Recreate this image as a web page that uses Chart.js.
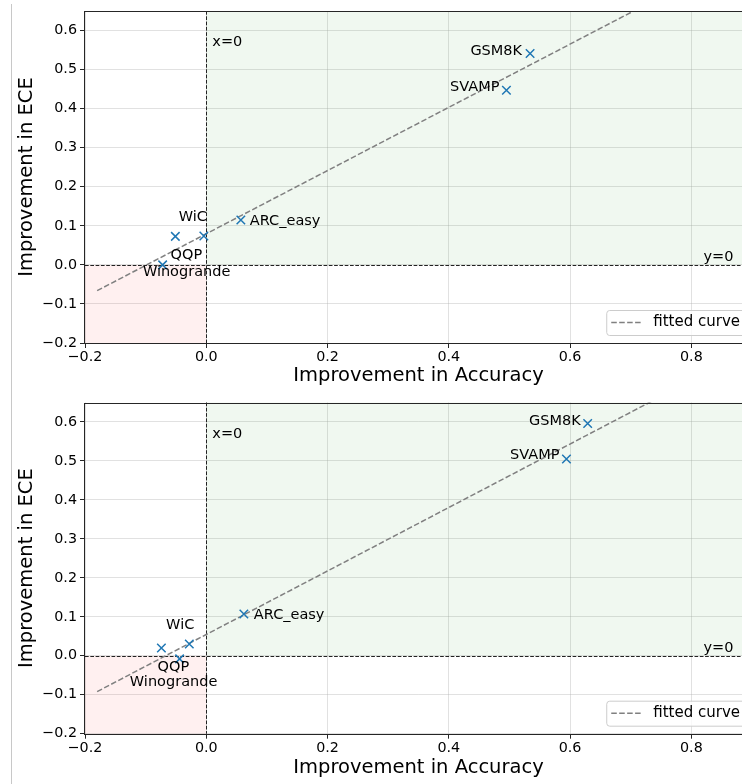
<!DOCTYPE html>
<html>
<head>
<meta charset="utf-8">
<script src="https://cdn.jsdelivr.net/npm/chart.js@4.4.1/dist/chart.umd.min.js"></script>
<style>
  html, body { margin: 0; padding: 0; background: #fff; overflow: hidden; }
  #wrap { position: relative; width: 742px; height: 784px; overflow: hidden; }
  #wrap canvas { position: absolute; left: 0; }
  #top { top: 0; }
  #bottom { top: 392px; }
  .edge { position: absolute; left: 11px; top: 4px; bottom: 0; border-left: 1px solid #c8c8c8; }
</style>
</head>
<body>
<div id="wrap">
  <div class="edge"></div>
  <canvas id="top" width="760" height="392"></canvas>
  <canvas id="bottom" width="760" height="392"></canvas>
</div>
<script>
// axes
const X_TICKS = [-0.2, 0.0, 0.2, 0.4, 0.6, 0.8]
const Y_TICKS = [-0.2, -0.1, 0.0, 0.1, 0.2, 0.3, 0.4, 0.5, 0.6]
const X_RANGE = [-0.2, 0.9]
const Y_RANGE = [-0.2, 0.65]

const TASKS = ["GSM8K", "SVAMP", "ARC_easy", "WiC", "QQP", "Winogrande"]

// upper panel
const ACC_TOP = [0.534, 0.495, 0.057, -0.004, -0.051, -0.072]
const ECE_TOP = [0.541, 0.447, 0.115, 0.074, 0.073, 0.000]
const FIT_X_TOP = [-0.18, 0.9]
const FIT_Y_TOP = [-0.066, 0.808]

// lower panel
const ACC_BOTTOM = [0.629, 0.594, 0.062, -0.028, -0.074, -0.044]
const ECE_BOTTOM = [0.596, 0.505, 0.107, 0.030, 0.020, -0.008]
const FIT_X_BOTTOM = [-0.18, 0.9]
const FIT_Y_BOTTOM = [-0.092, 0.788]

// where each task label sits relative to its marker: [align, dx, dy] in px
const LABEL_POS_TOP = [["right", -8, 1], ["right", -7, 1], ["left", 9, 5], ["right", 3, -15], ["center", 11, 23], ["center", 24, 11]]
const LABEL_POS_BOTTOM = [["right", -7, 1], ["right", -7, 0], ["left", 10, 5], ["right", 5, -15], ["center", 12, 23], ["center", -6, 27]]

const FONT = "'DejaVu Sans', sans-serif"
Chart.defaults.font.family = FONT
Chart.defaults.color = "#000"

const fmt = v => v.toFixed(1).replace("-", "\u2212")

const panelPlugin = {
  id: "panel",
  beforeDatasetsDraw(chart) {
    const { ctx, chartArea: a, scales: { x, y } } = chart
    const x0 = x.getPixelForValue(0)
    const y0 = y.getPixelForValue(0)
    ctx.save()
    ctx.fillStyle = "rgba(0, 128, 0, 0.06)"
    ctx.fillRect(x0, a.top, a.right - x0, y0 - a.top)
    ctx.fillStyle = "rgba(255, 0, 0, 0.06)"
    ctx.fillRect(a.left, y0, x0 - a.left, a.bottom - y0)

    ctx.strokeStyle = "#222"
    ctx.lineWidth = 1
    ctx.setLineDash([3.7, 1.6])
    ctx.beginPath()
    ctx.moveTo(Math.round(x0) + 0.5, a.top)
    ctx.lineTo(Math.round(x0) + 0.5, a.bottom)
    ctx.moveTo(a.left, Math.round(y0) + 0.5)
    ctx.lineTo(a.right, Math.round(y0) + 0.5)
    ctx.stroke()
    ctx.restore()
  },
  afterDatasetsDraw(chart, args, opts) {
    const { ctx, chartArea: a, scales: { x, y } } = chart
    ctx.save()
    ctx.fillStyle = "#000"
    ctx.font = `14.5px ${FONT}`
    ctx.textBaseline = "alphabetic"

    // reference line captions
    ctx.textAlign = "left"
    ctx.fillText("x=0", x.getPixelForValue(0.01), y.getPixelForValue(0.6) + 15.7)
    ctx.fillText("y=0", x.getPixelForValue(0.82), y.getPixelForValue(0) - 3.4)

    // task labels
    TASKS.forEach((name, i) => {
      const [align, dx, dy] = opts.labelPos[i]
      ctx.textAlign = align
      ctx.fillText(name, x.getPixelForValue(opts.acc[i]) + dx, y.getPixelForValue(opts.ece[i]) + dy)
    })

    // legend
    ctx.font = `15px ${FONT}`
    const tw = ctx.measureText("fitted curve").width
    const w = 47 + tw + 6
    const h = 25
    const right = a.right - 6
    const bottom = a.bottom - 8
    const left = right - w
    const top = bottom - h
    ctx.beginPath()
    ctx.roundRect(left + 0.5, top + 0.5, w, h, 3)
    ctx.fillStyle = "rgba(255, 255, 255, 0.8)"
    ctx.fill()
    ctx.strokeStyle = "#cccccc"
    ctx.lineWidth = 1
    ctx.stroke()
    ctx.beginPath()
    ctx.setLineDash([5.55, 2.4])
    ctx.strokeStyle = "#808080"
    ctx.lineWidth = 1.5
    ctx.moveTo(left + 5, top + h / 2)
    ctx.lineTo(left + 36, top + h / 2)
    ctx.stroke()
    ctx.setLineDash([])
    ctx.fillStyle = "#000"
    ctx.textAlign = "left"
    ctx.textBaseline = "middle"
    ctx.fillText("fitted curve", left + 47, top + h / 2)

    // spines
    ctx.strokeStyle = "#262626"
    ctx.lineWidth = 1
    ctx.strokeRect(Math.round(a.left) - 0.5, Math.round(a.top) + 0.5, a.right - a.left, Math.round(a.bottom) - Math.round(a.top))
    ctx.restore()
  }
}

function makePanel(id, acc, ece, fitX, fitY, labelPos, padTop, axisH) {
  const points = acc.map((v, i) => ({ x: v, y: ece[i] }))
  const fit = fitX.map((v, i) => ({ x: v, y: fitY[i] }))

  return new Chart(document.getElementById(id), {
    type: "scatter",
    data: {
      datasets: [
        {
          label: "tasks",
          data: points,
          order: 0,
          pointStyle: "crossRot",
          pointRadius: 6,
          pointBorderWidth: 1.5,
          borderColor: "#1f77b4",
          backgroundColor: "#1f77b4"
        },
        {
          type: "line",
          label: "fitted curve",
          data: fit,
          order: 1,
          borderColor: "#808080",
          borderWidth: 1.5,
          borderDash: [5.55, 2.4],
          pointRadius: 0,
          fill: false
        }
      ]
    },
    options: {
      responsive: false,
      animation: false,
      layout: { padding: { top: padTop, right: 8, bottom: 0, left: 0 } },
      scales: {
        x: {
          type: "linear",
          min: X_RANGE[0],
          max: X_RANGE[1],
          afterBuildTicks: s => { s.ticks = X_TICKS.map(v => ({ value: v })) },
          afterFit: s => { s.height = axisH; s.paddingLeft = 0; s.paddingRight = 0 },
          ticks: { callback: fmt, font: { size: 14.3 }, color: "#000", padding: 1, maxRotation: 0 },
          grid: { color: "rgba(176, 176, 176, 0.38)", tickColor: "#262626", tickLength: 5 },
          border: { display: false },
          title: { display: true, text: "Improvement in Accuracy", font: { size: 19.5 }, color: "#000", padding: { top: 0, bottom: 4.5 } }
        },
        y: {
          type: "linear",
          min: Y_RANGE[0],
          max: Y_RANGE[1],
          afterBuildTicks: s => { s.ticks = Y_TICKS.map(v => ({ value: v })) },
          afterFit: s => { s.width = 85; s.paddingTop = 0; s.paddingBottom = 0 },
          ticks: { callback: fmt, font: { size: 14.3 }, color: "#000", padding: 3 },
          grid: { color: "rgba(176, 176, 176, 0.38)", tickColor: "#262626", tickLength: 5 },
          border: { display: false },
          title: { display: true, text: "Improvement in ECE", font: { size: 19.5 }, color: "#000", padding: { top: 15.3, bottom: 0 } }
        }
      },
      plugins: {
        legend: { display: false },
        tooltip: { enabled: false },
        panel: { acc, ece, labelPos }
      }
    },
    plugins: [panelPlugin]
  })
}

makePanel("top", ACC_TOP, ECE_TOP, FIT_X_TOP, FIT_Y_TOP, LABEL_POS_TOP, 11, 49)
makePanel("bottom", ACC_BOTTOM, ECE_BOTTOM, FIT_X_BOTTOM, FIT_Y_BOTTOM, LABEL_POS_BOTTOM, 10.5, 50.3)
</script>
</body>
</html>
